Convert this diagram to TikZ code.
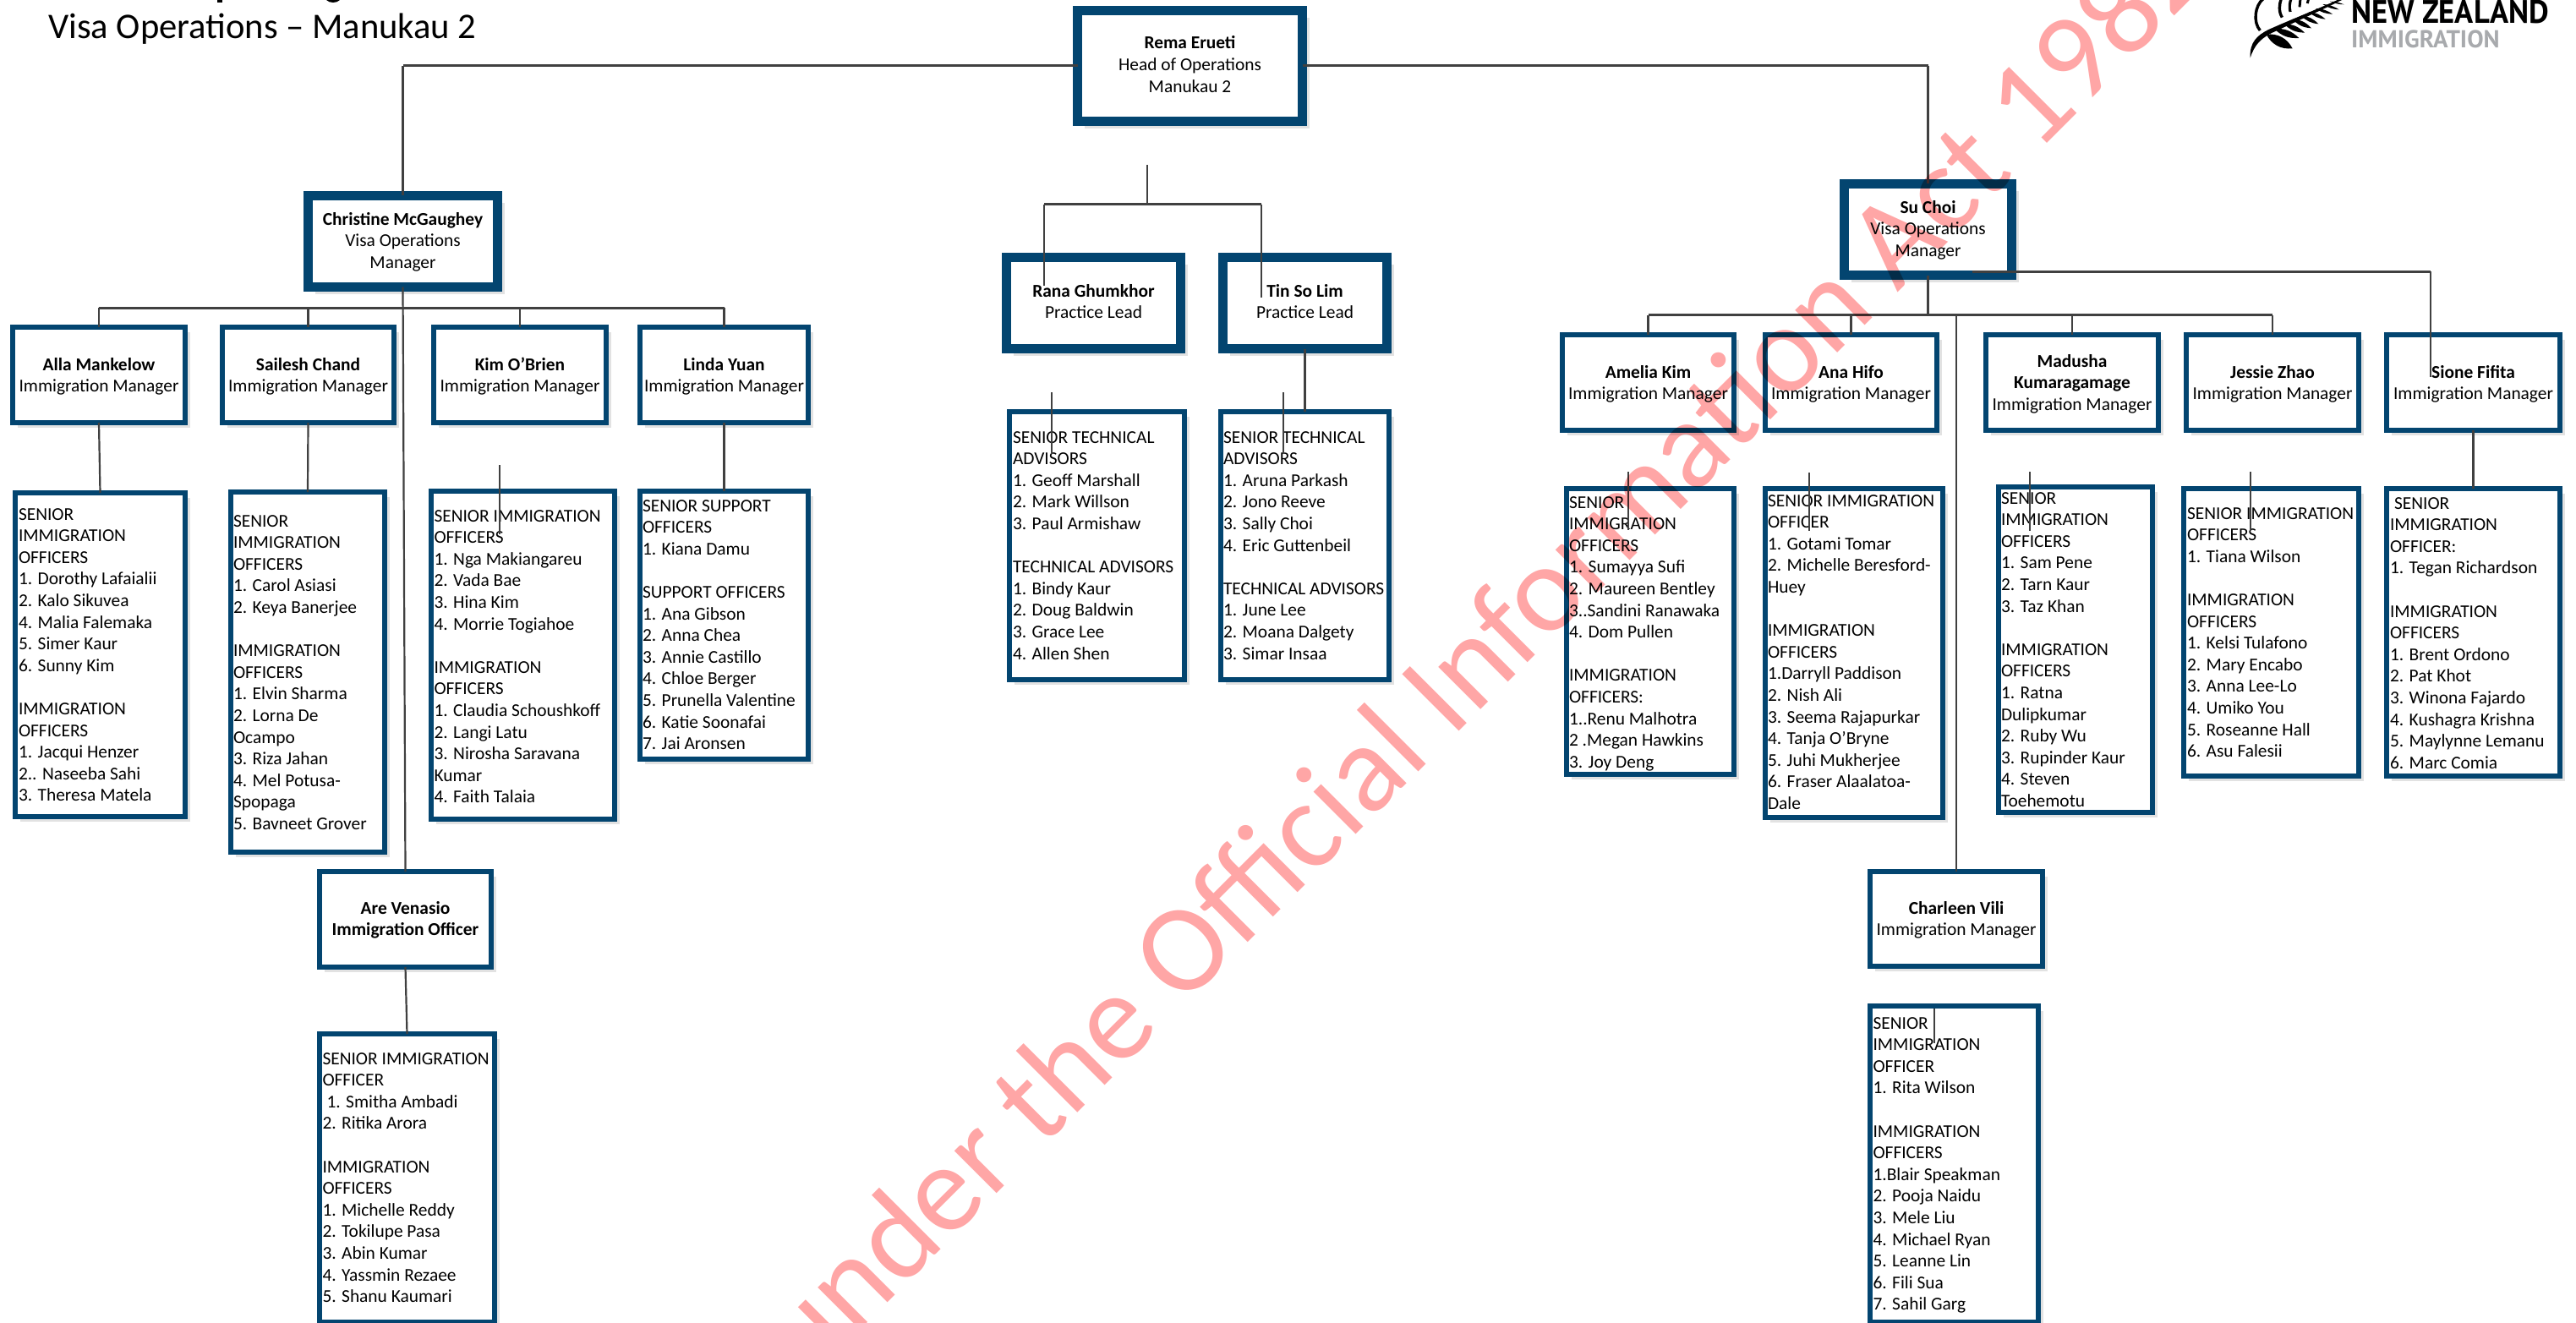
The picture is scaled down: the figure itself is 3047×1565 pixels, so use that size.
\documentclass[tikz,border=0pt]{standalone}
\usepackage{fontspec}
\setmainfont{Carlito}
\newfontfamily\logofont{PT Sans}
\usetikzlibrary{shadows}
\definecolor{navy}{HTML}{034570}
\definecolor{conn}{HTML}{404040}
\definecolor{wmpink}{HTML}{FFA6A6}
\definecolor{shade}{HTML}{E2E2E2}
\definecolor{logogrey}{HTML}{A8AAAD}
\tikzset{
  x=1pt,y=-1pt,
  orgbox/.style={rectangle,draw=navy,fill=white,inner sep=0pt,outer sep=0pt,line width=#1,
    text=black,font=\fontsize{21.4}{25.6}\selectfont,
    drop shadow={shadow xshift=\so pt,shadow yshift=-\so pt,fill=shade,opacity=1}},
  link/.style={draw=conn,line width=2.2pt},
  rail/.style={draw=conn,line width=3pt},
}
% name, x0, y0, x1, y1, text x, first baseline, lines
\newcommand{\listbox}[8]{%
  \pgfmathsetmacro\so{6}%
  \pgfmathsetmacro\bW{#4-#2-6}\pgfmathsetmacro\bH{#5-#3-6}%
  \pgfmathsetmacro\bL{#6-#2-3}\pgfmathsetmacro\bT{#7-#3-3-17.92}%
  \pgfmathsetmacro\cx{(#2+#4)/2}\pgfmathsetmacro\cy{(#3+#5)/2}%
  \node[orgbox=6pt,minimum width=\bW pt,minimum height=\bH pt] (#1) at (\cx,\cy)
    {\vbox to \bH pt{\hsize=\bW pt\vskip\bT pt\relax
      \hbox to \bW pt{\hskip\bL pt\relax\begin{tabular}[t]{@{}l@{}}#8\end{tabular}\hss}\vss}};%
}
% line width, name, x0, y0, x1, y1, first baseline, lines
\newcommand{\headbox}[8]{%
  \pgfmathsetmacro\so{#1/2+3}%
  \pgfmathsetmacro\bW{#5-#3-#1}\pgfmathsetmacro\bH{#6-#4-#1}%
  \pgfmathsetmacro\bT{#7-#4-#1/2-17.92}%
  \pgfmathsetmacro\cx{(#3+#5)/2}\pgfmathsetmacro\cy{(#4+#6)/2}%
  \node[orgbox=#1pt,minimum width=\bW pt,minimum height=\bH pt] (#2) at (\cx,\cy)
    {\vbox to \bH pt{\hsize=\bW pt\vskip\bT pt\relax
      \hbox to \bW pt{\hss\begin{tabular}[t]{@{}c@{}}#8\end{tabular}\hss}\vss}};%
}
\newcommand{\strayline}[4]{%
  \coordinate (#1top) at (#2,#3);\coordinate (#1end) at (#2,#4);
  \draw[link] (#1top) -- (#1end);%
}
\begin{document}
\begin{tikzpicture}
\useasboundingbox (0,0) rectangle (3047,1565);
\clip (0,0) rectangle (3047,1565);

% cut-off first title line: only descenders are on the page
\fill[black] (257,0) rectangle (263,3);
\fill[black] (386,0) .. controls (390,4) and (398,4) .. (402,0) -- cycle;
\node[anchor=base west,inner sep=0pt,font=\fontsize{42.6}{50}\selectfont] (title) at (57,46) {Visa Operations – Manukau 2};

% top level
\headbox{11}{rema}{1269}{7}{1546}{149}{58}{\textbf{Rema Erueti}\\Head of Operations\\Manukau 2}
\headbox{11}{christine}{359}{226}{594}{345}{266}{\textbf{Christine McGaughey}\\Visa Operations\\Manager}
\headbox{11}{su}{2176}{212}{2385}{331}{252}{\textbf{Su Choi}\\Visa Operations\\Manager}
\headbox{11}{rana}{1185}{299}{1402}{418}{351}{\textbf{Rana Ghumkhor}\\Practice Lead}
\headbox{11}{tin}{1441}{299}{1646}{418}{351}{\textbf{Tin So Lim}\\Practice Lead}

% managers, left
\headbox{6}{alla}{12}{384}{222}{503}{438}{\textbf{Alla Mankelow}\\Immigration Manager}
\headbox{6}{sailesh}{260}{384}{469}{503}{438}{\textbf{Sailesh Chand}\\Immigration Manager}
\headbox{6}{kim}{510}{384}{720}{503}{438}{\textbf{Kim O’Brien}\\Immigration Manager}
\headbox{6}{linda}{754}{384}{959}{503}{438}{\textbf{Linda Yuan}\\Immigration Manager}
\headbox{6}{are}{375}{1028}{584}{1147}{1081}{\textbf{Are Venasio}\\\textbf{Immigration Officer}}

% managers, right
\headbox{6}{amelia}{1845}{393}{2054}{512}{447}{\textbf{Amelia Kim}\\Immigration Manager}
\headbox{6}{ana}{2085}{393}{2294}{512}{447}{\textbf{Ana Hifo}\\Immigration Manager}
\headbox{6}{madusha}{2346}{393}{2556}{512}{434}{\textbf{Madusha}\\\textbf{Kumaragamage}\\Immigration Manager}
\headbox{6}{jessie}{2583}{393}{2793}{512}{447}{\textbf{Jessie Zhao}\\Immigration Manager}
\headbox{6}{sione}{2820}{393}{3031}{512}{447}{\textbf{Sione Fifita}\\Immigration Manager}
\headbox{6}{charleen}{2209}{1028}{2419}{1146}{1081}{\textbf{Charleen Vili}\\Immigration Manager}

% staff lists, left
\listbox{allalist}{15}{580}{222}{969}{22}{615}{SENIOR\\IMMIGRATION\\OFFICERS\\1. Dorothy Lafaialii\\2. Kalo Sikuvea\\4. Malia Falemaka\\5. Simer Kaur\\6. Sunny Kim\\ \\IMMIGRATION\\OFFICERS\\1. Jacqui Henzer\\2.. Naseeba Sahi\\3. Theresa Matela}
\listbox{saileshlist}{270}{579}{458}{1011}{276}{623}{SENIOR\\IMMIGRATION\\OFFICERS\\1. Carol Asiasi\\2. Keya Banerjee\\ \\IMMIGRATION\\OFFICERS\\1. Elvin Sharma\\2. Lorna De\\Ocampo\\3. Riza Jahan\\4. Mel Potusa-\\Spopaga\\5. Bavneet Grover}
\listbox{kimlist}{507}{578}{730}{972}{513.5}{617}{SENIOR IMMIGRATION\\OFFICERS\\1. Nga Makiangareu\\2. Vada Bae\\3. Hina Kim\\4. Morrie Togiahoe\\ \\IMMIGRATION\\OFFICERS\\1. Claudia Schoushkoff\\2. Langi Latu\\3. Nirosha Saravana\\Kumar\\4. Faith Talaia}
\listbox{lindalist}{754}{578}{959}{901}{760}{605}{SENIOR SUPPORT\\OFFICERS\\1. Kiana Damu\\ \\SUPPORT OFFICERS\\1. Ana Gibson\\2. Anna Chea\\3. Annie Castillo\\4. Chloe Berger\\5. Prunella Valentine\\6. Katie Soonafai\\7. Jai Aronsen}
\listbox{arelist}{375}{1220}{588}{1567}{381.5}{1259}{SENIOR IMMIGRATION\\OFFICER\\\hspace{5pt}1. Smitha Ambadi\\2. Ritika Arora\\ \\IMMIGRATION\\OFFICERS\\1. Michelle Reddy\\2. Tokilupe Pasa\\3. Abin Kumar\\4. Yassmin Rezaee\\5. Shanu Kaumari}

% staff lists, centre
\listbox{ranalist}{1191}{484}{1404}{807}{1198}{524}{SENIOR TECHNICAL\\ADVISORS\\1. Geoff Marshall\\2. Mark Willson\\3. Paul Armishaw\\ \\TECHNICAL ADVISORS\\1. Bindy Kaur\\2. Doug Baldwin\\3. Grace Lee\\4. Allen Shen}
\listbox{tinlist}{1441}{484}{1646}{807}{1447}{524}{SENIOR TECHNICAL\\ADVISORS\\1. Aruna Parkash\\2. Jono Reeve\\3. Sally Choi\\4. Eric Guttenbeil\\ \\TECHNICAL ADVISORS\\1. June Lee\\2. Moana Dalgety\\3. Simar Insaa}

% staff lists, right
\listbox{amelialist}{1850}{575}{2054}{919}{1856}{601}{SENIOR\\IMMIGRATION\\OFFICERS\\1. Sumayya Sufi\\2. Maureen Bentley\\3..Sandini Ranawaka\\4. Dom Pullen\\ \\IMMIGRATION\\OFFICERS:\\1..Renu Malhotra\\2 .Megan Hawkins\\3. Joy Deng}
\listbox{analist}{2085}{575}{2301}{970}{2091}{599}{SENIOR IMMIGRATION\\OFFICER\\1. Gotami Tomar\\2. Michelle Beresford-\\Huey\\ \\IMMIGRATION\\OFFICERS\\1.Darryll Paddison\\2. Nish Ali\\3. Seema Rajapurkar\\4. Tanja O’Bryne\\5. Juhi Mukherjee\\6. Fraser Alaalatoa-\\Dale}
\listbox{madushalist}{2361}{573}{2549}{964}{2367}{596}{SENIOR\\IMMIGRATION\\OFFICERS\\1. Sam Pene\\2. Tarn Kaur\\3. Taz Khan\\ \\IMMIGRATION\\OFFICERS\\1. Ratna\\Dulipkumar\\2. Ruby Wu\\3. Rupinder Kaur\\4. Steven\\Toehemotu}
\listbox{jessielist}{2580}{575}{2793}{921}{2587}{614}{SENIOR IMMIGRATION\\OFFICERS\\1. Tiana Wilson\\ \\IMMIGRATION\\OFFICERS\\1. Kelsi Tulafono\\2. Mary Encabo\\3. Anna Lee-Lo\\4. Umiko You\\5. Roseanne Hall\\6. Asu Falesii}
\listbox{sionelist}{2820}{575}{3031}{921}{2827}{602}{\hspace{5pt}SENIOR\\IMMIGRATION\\OFFICER:\\1. Tegan Richardson\\ \\IMMIGRATION\\OFFICERS\\1. Brent Ordono\\2. Pat Khot\\3. Winona Fajardo\\4. Kushagra Krishna\\5. Maylynne Lemanu\\6. Marc Comia}
\listbox{charleenlist}{2209}{1187}{2414}{1567}{2215.5}{1217}{SENIOR\\IMMIGRATION\\OFFICER\\1. Rita Wilson\\ \\IMMIGRATION\\OFFICERS\\1.Blair Speakman\\2. Pooja Naidu\\3. Mele Liu\\4. Michael Ryan\\5. Leanne Lin\\6. Fili Sua\\7. Sahil Garg}

% connectors: top
\draw[rail] (rema.west) -- (rema.west -| christine.north);
\draw[link] (rema.west -| christine.north) -- (christine.north);
\draw[rail] (rema.east) -- (rema.east -| su.north);
\draw[link] (rema.east -| su.north) -- (su.north);

% connectors: Christine's group
\coordinate (cbus) at (476.5,364);
\draw[rail] (alla.north |- cbus) -- (linda.north |- cbus);
\foreach \m in {alla,sailesh,kim,linda}{\draw[link] (\m.north) -- (\m.north |- cbus);}
\draw[link] (christine.south) -- (are.north);
\draw[link] (alla.south) -- (allalist.north);
\draw[link] (sailesh.south) -- (saileshlist.north);
\draw[link] (linda.south) -- (lindalist.north);
\draw[link] (are.south) -- (arelist.north);
\strayline{kimstub}{591}{550}{632}

% connectors: practice leads
\coordinate (plbus) at (1357,242);
\coordinate (plstub) at (1357,195);
\coordinate (ranadrop) at (1235,338);
\coordinate (tindrop) at (1492,352);
\draw[link] (plstub) -- (plbus);
\draw[link] (ranadrop) -- (ranadrop |- plbus);
\draw[link] (tindrop) -- (tindrop |- plbus);
\draw[rail] (ranadrop |- plbus) -- (tindrop |- plbus);
\draw[link] (tin.south) -- (tinlist.north);
\strayline{ranastub}{1244}{464}{537}
\strayline{tinstub}{1518}{464}{537}

% connectors: Su Choi's group
\coordinate (sbus) at (2280.5,372.5);
\draw[link] (su.south) -- (sbus);
\draw[rail] (amelia.north |- sbus) -- (jessie.north |- sbus);
\foreach \m in {amelia,ana,madusha,jessie}{\draw[link] (\m.north) -- (\m.north |- sbus);}
\draw[link] (charleen.north |- sbus) -- (charleen.north);
\coordinate (sustub) at (2333,321);
\coordinate (sionedrop) at (2875,446);
\draw[rail] (sustub) -- (sustub -| sionedrop);
\draw[link] (sustub -| sionedrop) -- (sionedrop);
\draw[link] (sione.south) -- (sionelist.north);
\strayline{ameliastub}{1926}{558}{627}
\strayline{anastub}{2140}{559}{628}
\strayline{madushastub}{2401}{558}{628}
\strayline{jessiestub}{2662}{558}{628}
\strayline{charleenstub}{2288}{1193}{1234}

% logo
\begin{scope}[shift={(2640,0)},x=0.3333pt,y=-0.3333pt]
  \fill[black] (65,205) .. controls (62,150) and (90,125) .. (130,105) .. controls (220,65) and (310,30) .. (385,-5)
     -- (390,0) .. controls (310,40) and (220,80) .. (135,120) .. controls (100,140) and (80,160) .. (65,205) -- cycle;
  \foreach \ax/\ay/\bx/\by/\bd in {122/122/215/172/34,150/102/238/135/24,185/85/258/116/22,215/68/282/100/22,245/55/307/85/20,272/42/332/68/18,297/30/357/50/16,322/15/380/34/14,348/5/398/16/10}{
    \fill[black] (\ax,\ay) to[bend left=\bd] (\bx,\by) to[bend left=\bd] (\ax,\ay) -- cycle;
  }
  \draw[black,line width=3.4pt] (100,108) .. controls (75,80) and (80,20) .. (112,-5);
  \draw[black,line width=3.4pt] (178,62) .. controls (165,40) and (168,15) .. (175,-5);
  \draw[black,line width=3.2pt] (207,42) .. controls (203,25) and (205,10) .. (210,-5);
  \draw[black,line width=3pt] (240,25) -- (243,-5);
  \draw[black,line width=3pt] (268,12) -- (272,-5);
\end{scope}
\node[anchor=base west,inner sep=0pt,text=black,font={\logofont\bfseries\fontsize{38.5}{40}\selectfont}] (nz) at (2781,28) {\scalebox{0.95}[1]{NEW ZEALAND}};
\node[anchor=base west,inner sep=0pt,text=logogrey,font={\logofont\bfseries\fontsize{29}{30}\selectfont}] (imm) at (2781,57) {IMMIGRATION};

% watermark
\node[anchor=base west,inner sep=0pt,rotate=45,text=wmpink,blend mode=multiply,font=\fontsize{148}{172}\selectfont] (wm) at (955,1636) {under the Official Information Act 1982};
\end{tikzpicture}
\end{document}
